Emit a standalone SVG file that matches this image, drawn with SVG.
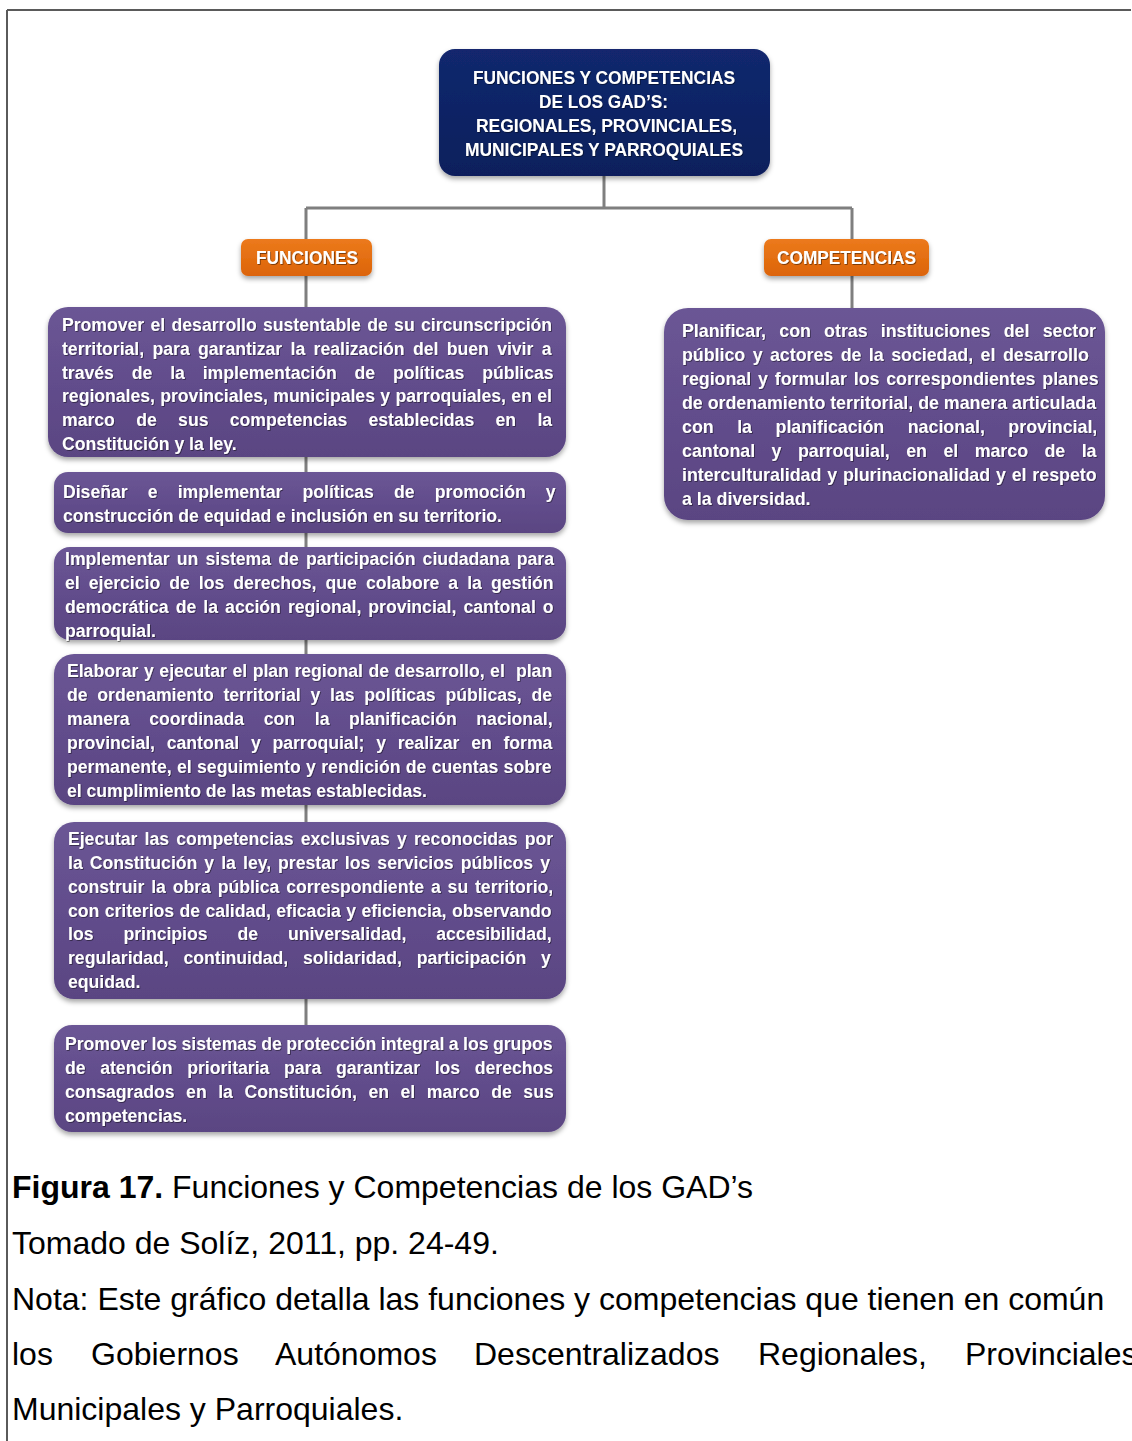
<svg xmlns="http://www.w3.org/2000/svg" width="1132" height="1441" viewBox="0 0 1132 1441">
<style>
.frame{stroke:#5a5a5a;stroke-width:2;fill:none}
.conn{stroke:#7f7f7f;stroke-width:3;fill:none}
.purple{fill:url(#gPurple);filter:url(#shadow)}
.navy{fill:url(#gNavy);filter:url(#shadow)}
.orange{fill:url(#gOrange);filter:url(#shadow)}
.t{font-family:"Liberation Sans",Arial,sans-serif;font-weight:bold;font-size:17.6px;fill:#fff;filter:url(#tshadow)}
.tr{font-size:17.8px}
.h{font-family:"Liberation Sans",Arial,sans-serif;font-weight:bold;font-size:19px;fill:#fff;filter:url(#tshadow)}
.cap{font-family:"Liberation Sans",Arial,sans-serif;font-size:32px;fill:#000}
.b{font-weight:bold}
</style>
<defs>
<linearGradient id="gPurple" x1="0" y1="0" x2="0" y2="1">
<stop offset="0" stop-color="#6b5695"/>
<stop offset="0.5" stop-color="#624d8c"/>
<stop offset="1" stop-color="#5a4582"/>
</linearGradient>
<linearGradient id="gNavy" x1="0" y1="0" x2="0" y2="1">
<stop offset="0" stop-color="#12286e"/>
<stop offset="1" stop-color="#0b1f5c"/>
</linearGradient>
<linearGradient id="gOrange" x1="0" y1="0" x2="0" y2="1">
<stop offset="0" stop-color="#ec7a1c"/>
<stop offset="1" stop-color="#dc6408"/>
</linearGradient>
<filter id="shadow" x="-5%" y="-10%" width="110%" height="130%">
<feDropShadow dx="0" dy="3" stdDeviation="2.5" flood-color="#000" flood-opacity="0.35"/>
</filter>
<filter id="tshadow" x="-5%" y="-30%" width="110%" height="160%">
<feDropShadow dx="0.8" dy="0.8" stdDeviation="0.6" flood-color="#000" flood-opacity="0.55"/>
</filter>
</defs>

<g id="frame">
<line class="frame" x1="7" y1="10" x2="1131" y2="10"/>
<line class="frame" x1="7" y1="10" x2="7" y2="1441"/>
</g>

<g id="connectors">
<line class="conn" x1="604" y1="176" x2="604" y2="208"/>
<line class="conn" x1="306" y1="208" x2="852" y2="208"/>
<line class="conn" x1="306" y1="208" x2="306" y2="1025"/>
<line class="conn" x1="852" y1="208" x2="852" y2="308"/>
</g>

<g id="node-title">
<rect class="navy" x="439" y="49" width="331" height="127" rx="16"/>
<text class="h" x="473" y="84" textLength="262" lengthAdjust="spacingAndGlyphs">FUNCIONES Y COMPETENCIAS</text>
<text class="h" x="539" y="108" textLength="129" lengthAdjust="spacingAndGlyphs">DE LOS GAD’S:</text>
<text class="h" x="476" y="132" textLength="261" lengthAdjust="spacingAndGlyphs">REGIONALES, PROVINCIALES,</text>
<text class="h" x="465" y="156" textLength="278" lengthAdjust="spacingAndGlyphs">MUNICIPALES Y PARROQUIALES</text>
</g>

<g id="node-funciones">
<rect class="orange" x="241" y="239" width="131" height="37" rx="7"/>
<text class="h" x="256" y="264" textLength="102" lengthAdjust="spacingAndGlyphs">FUNCIONES</text>
</g>

<g id="node-competencias">
<rect class="orange" x="764" y="239" width="165" height="37" rx="7"/>
<text class="h" x="777" y="264" textLength="139" lengthAdjust="spacingAndGlyphs">COMPETENCIAS</text>
</g>

<g id="node-f1">
<rect class="purple" x="48" y="307" width="518" height="150" rx="20"/>
<text class="t" x="62" y="331" style="word-spacing:1.5px">Promover el desarrollo sustentable de su circunscripción</text>
<text class="t" x="62" y="355" style="word-spacing:3.5px">territorial, para garantizar la realización del buen vivir a</text>
<text class="t" x="62" y="379" style="word-spacing:13px">través de la implementación de políticas públicas</text>
<text class="t" x="62" y="402" style="word-spacing:0.5px">regionales, provinciales, municipales y parroquiales, en el</text>
<text class="t" x="62" y="426" style="word-spacing:16.5px">marco de sus competencias establecidas en la</text>
<text class="t" x="62" y="450">Constitución y la ley.</text>
</g>

<g id="node-f2">
<rect class="purple" x="54" y="472" width="512" height="61" rx="14"/>
<text class="t" x="63" y="498" style="word-spacing:15.3px">Diseñar e implementar políticas de promoción y</text>
<text class="t" x="63" y="522">construcción de equidad e inclusión en su territorio.</text>
</g>

<g id="node-f3">
<rect class="purple" x="54" y="547" width="512" height="93" rx="16"/>
<text class="t" x="65" y="565" style="word-spacing:2.3px">Implementar un sistema de participación ciudadana para</text>
<text class="t" x="65" y="589" style="word-spacing:4.2px">el ejercicio de los derechos, que colabore a la gestión</text>
<text class="t" x="65" y="613" style="word-spacing:2.2px">democrática de la acción regional, provincial, cantonal o</text>
<text class="t" x="65" y="637">parroquial.</text>
</g>

<g id="node-f4">
<rect class="purple" x="54" y="654" width="512" height="151" rx="20"/>
<text class="t" x="67" y="677" style="word-spacing:0.7px">Elaborar y ejecutar el plan regional de desarrollo, el &#160;plan</text>
<text class="t" x="67" y="701" style="word-spacing:4.9px">de ordenamiento territorial y las políticas públicas, de</text>
<text class="t" x="67" y="725" style="word-spacing:14.8px">manera coordinada con la planificación nacional,</text>
<text class="t" x="67" y="749" style="word-spacing:6.9px">provincial, cantonal y parroquial; y realizar en forma</text>
<text class="t" x="67" y="773" style="word-spacing:0.5px">permanente, el seguimiento y rendición de cuentas sobre</text>
<text class="t" x="67" y="797">el cumplimiento de las metas establecidas.</text>
</g>

<g id="node-f5">
<rect class="purple" x="54" y="822" width="512" height="177" rx="20"/>
<text class="t" x="68" y="845" style="word-spacing:2.3px">Ejecutar las competencias exclusivas y reconocidas por</text>
<text class="t" x="68" y="869" style="word-spacing:2.2px">la Constitución y la ley, prestar los servicios públicos y</text>
<text class="t" x="68" y="893" style="word-spacing:2px">construir la obra pública correspondiente a su territorio,</text>
<text class="t" x="68" y="917" style="word-spacing:0.5px">con criterios de calidad, eficacia y eficiencia, observando</text>
<text class="t" x="68" y="940" style="word-spacing:25.1px">los principios de universalidad, accesibilidad,</text>
<text class="t" x="68" y="964" style="word-spacing:10px">regularidad, continuidad, solidaridad, participación y</text>
<text class="t" x="68" y="988">equidad.</text>
</g>

<g id="node-f6">
<rect class="purple" x="54" y="1025" width="512" height="107" rx="18"/>
<text class="t" x="65" y="1050" style="word-spacing:-0.4px">Promover los sistemas de protección integral a los grupos</text>
<text class="t" x="65" y="1074" style="word-spacing:9.8px">de atención prioritaria para garantizar los derechos</text>
<text class="t" x="65" y="1098" style="word-spacing:6.7px">consagrados en la Constitución, en el marco de sus</text>
<text class="t" x="65" y="1122">competencias.</text>
</g>

<g id="node-c1">
<rect class="purple" x="664" y="308" width="441" height="212" rx="24"/>
<text class="t tr" x="682" y="337" style="word-spacing:8.3px">Planificar, con otras instituciones del sector</text>
<text class="t tr" x="682" y="361" style="word-spacing:2.5px">público y actores de la sociedad, el desarrollo</text>
<text class="t tr" x="682" y="385" style="word-spacing:1.9px">regional y formular los correspondientes planes</text>
<text class="t tr" x="682" y="409">de ordenamiento territorial, de manera articulada</text>
<text class="t tr" x="682" y="433" style="word-spacing:18.6px">con la planificación nacional, provincial,</text>
<text class="t tr" x="682" y="457" style="word-spacing:11.5px">cantonal y parroquial, en el marco de la</text>
<text class="t tr" x="682" y="481" style="word-spacing:0.9px">interculturalidad y plurinacionalidad y el respeto</text>
<text class="t tr" x="682" y="505">a la diversidad.</text>
</g>

<g id="caption">
<text class="cap" x="12" y="1198"><tspan class="b">Figura 17.</tspan> Funciones y Competencias de los GAD’s</text>
<text class="cap" x="12" y="1254">Tomado de Solíz, 2011, pp. 24-49.</text>
<text class="cap" x="12" y="1310">Nota: Este gráfico detalla las funciones y competencias que tienen en común</text>
<text class="cap" y="1365"><tspan x="12">los</tspan><tspan x="91">Gobiernos</tspan><tspan x="275">Autónomos</tspan><tspan x="474">Descentralizados</tspan><tspan x="758">Regionales,</tspan><tspan x="965">Provinciales</tspan></text>
<text class="cap" x="12" y="1420">Municipales y Parroquiales.</text>
</g>
</svg>
